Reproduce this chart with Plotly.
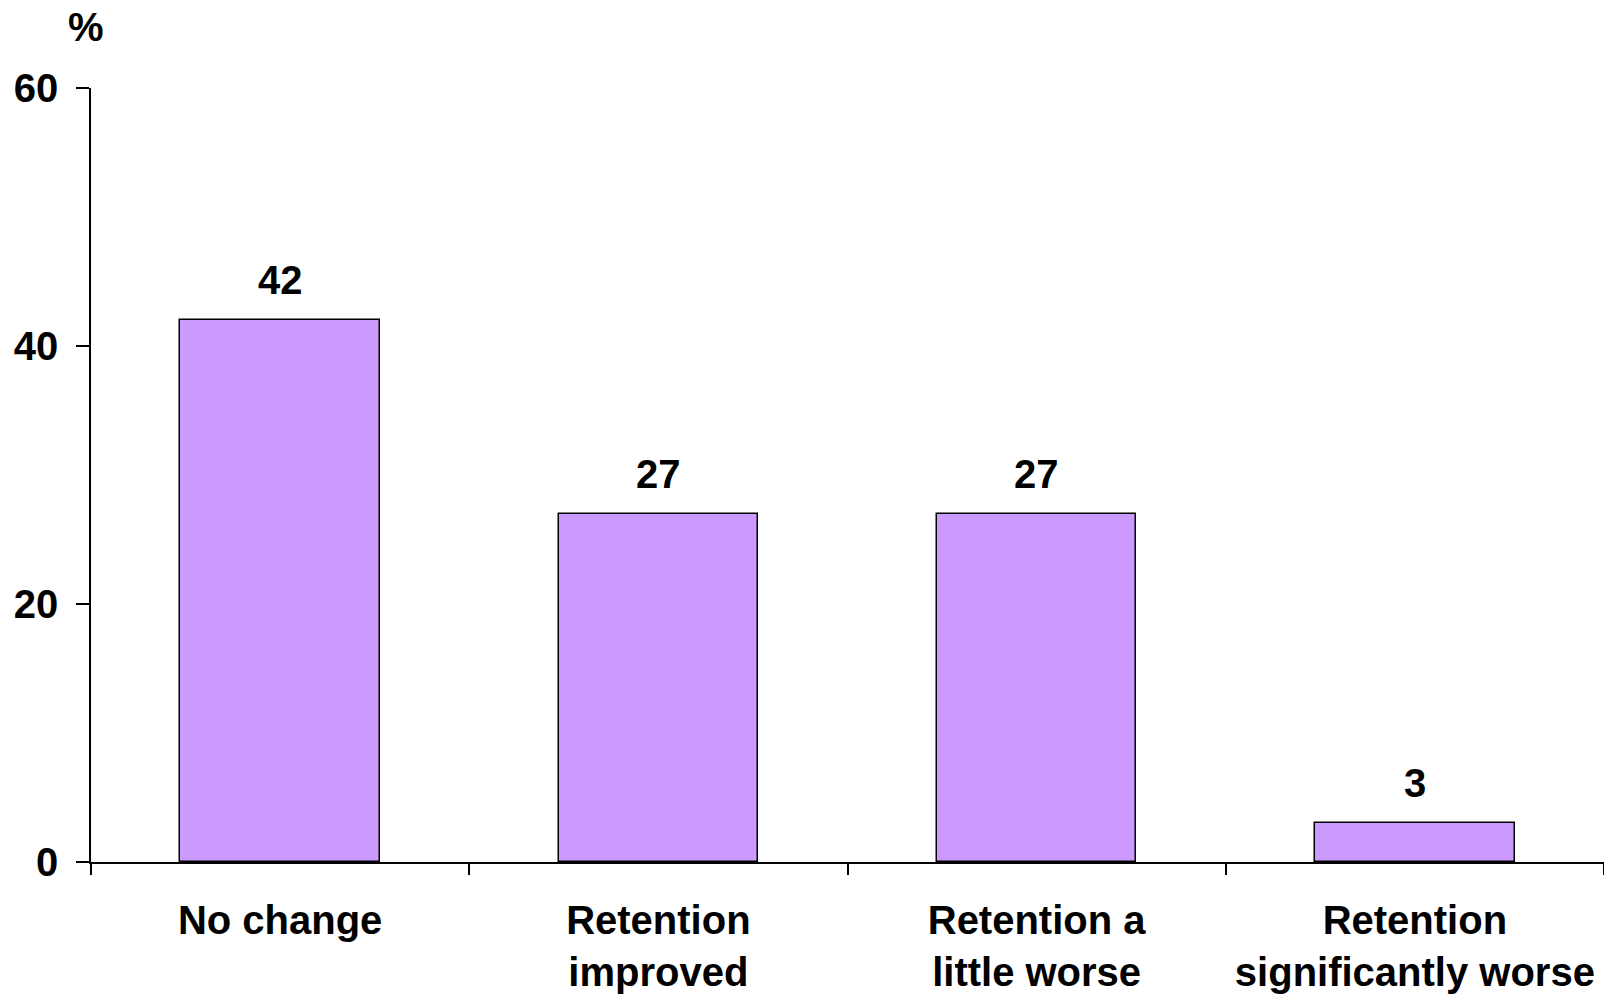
import plotly.graph_objects as go

# Survey responses: change in retention
categories = ["No change", "Retention<br>improved", "Retention a<br>little worse", "Retention<br>significantly worse"]
values = [42, 27, 27, 3]
y_ticks = [0, 20, 40, 60]

FONT = "Liberation Sans, Arial, sans-serif"
W, H = 1604, 995
L, R, T, B = 91, 0, 88, 133

fig = go.Figure()
fig.add_trace(go.Bar(
    x=categories,
    y=values,
    width=0.527,
    marker=dict(color="#CC99FF", line=dict(color="black", width=1.5)),
    hoverinfo="skip",
))

# value labels above each bar
for c, v in zip(categories, values):
    fig.add_annotation(
        x=c, y=v, text=str(v), showarrow=False,
        yanchor="middle", yshift=40,
        font=dict(family=FONT, size=40, color="black", weight="bold"),
    )

# unit label above the value axis
plot_w = W - L - R
plot_h = H - T - B
fig.add_annotation(
    xref="paper", yref="paper",
    x=(86 - L) / plot_w, y=(H - B - 27) / plot_h,
    text="%", showarrow=False, xanchor="center", yanchor="middle",
    font=dict(family=FONT, size=40, color="black", weight="bold"),
)

fig.update_layout(
    width=W, height=H,
    margin=dict(l=L, r=R, t=T, b=B),
    paper_bgcolor="white", plot_bgcolor="white",
    showlegend=False,
    bargap=0,
)
fig.update_xaxes(
    type="category",
    tickson="boundaries",
    ticks="outside", ticklen=11, tickwidth=1.5, tickcolor="black",
    showline=True, linecolor="black", linewidth=1.5,
    showgrid=False, zeroline=False,
    tickfont=dict(family=FONT, size=40, color="black", weight="bold"),
    ticklabelstandoff=22,
)
fig.update_yaxes(
    range=[0, 60],
    tickvals=y_ticks,
    ticks="outside", ticklen=13, tickwidth=1.5, tickcolor="black",
    showline=True, linecolor="black", linewidth=1.5,
    showgrid=False, zeroline=False,
    tickfont=dict(family=FONT, size=40, color="black", weight="bold"),
    ticklabelstandoff=10,
)

fig.write_html("out.html")
